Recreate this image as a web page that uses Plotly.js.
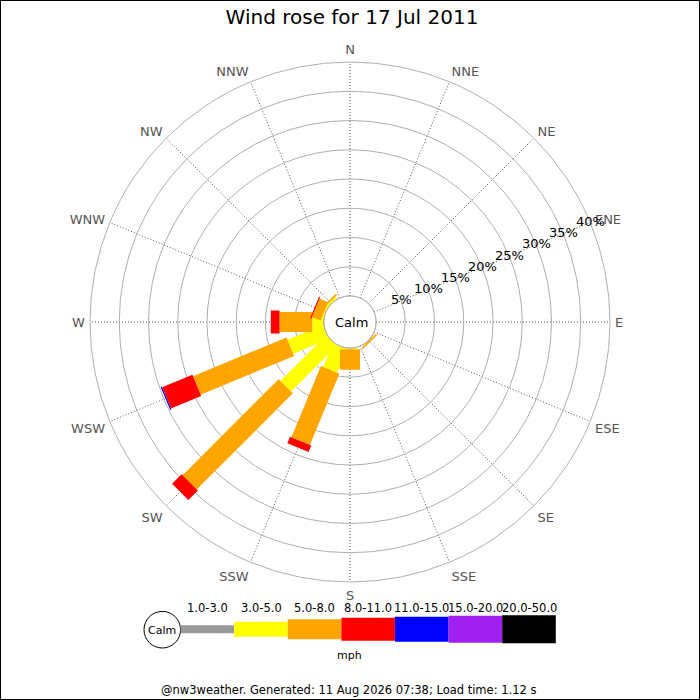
<!DOCTYPE html>
<html>
<head>
<meta charset="utf-8">
<script src="https://cdn.plot.ly/plotly-3.0.1.min.js"></script>
<style>body{margin:0;background:#fff}</style>
</head>
<body>
<div id="myDiv" style="width:700px;height:700px;"></div>
<script>

// compass directions, clockwise from north
var directions = ['N', 'NNE', 'NE', 'ENE', 'E', 'ESE', 'SE', 'SSE',
                  'S', 'SSW', 'SW', 'WSW', 'W', 'WNW', 'NW', 'NNW'];

// speed ranges (mph)
var speedBins = ['1.0-3.0', '3.0-5.0', '5.0-8.0', '8.0-11.0', '11.0-15.0', '15.0-20.0', '20.0-50.0'];

// % of time per direction, one array per speed range
//                N  NNE NE ENE E  ESE SE   SSE S    SSW   SW    WSW   W    WNW  NW   NNW
var speed1to3   = [0, 0, 0, 0, 0, 0, 0,   0, 0,   0,    0,    0,    0,   0,   0,   0];
var speed3to5   = [0, 0, 0, 0, 0, 0, 0.1, 0, 0.2, 4.4,  11.1, 6.6,  2.0, 0.3, 0.4, 0];
var speed5to8   = [0, 0, 0, 0, 0, 0, 0.3, 0, 3.5, 13.2, 23.2, 17.3, 5.6, 1.6, 0.3, 0];
var speed8to11  = [0, 0, 0, 0, 0, 0, 0,   0, 0,   1.2,  2.3,  5.6,  1.5, 0.2, 0,   0];
var speed11to15 = [0, 0, 0, 0, 0, 0, 0,   0, 0,   0,    0,    0.2,  0,   0,   0,   0];
var speed15to20 = [0, 0, 0, 0, 0, 0, 0,   0, 0,   0,    0,    0,    0,   0,   0,   0];
var speed20to50 = [0, 0, 0, 0, 0, 0, 0,   0, 0,   0,    0,    0,    0,   0,   0,   0];

var radialTicks = [5, 10, 15, 20, 25, 30, 35, 40];

var series = [speed1to3, speed3to5, speed5to8, speed8to11, speed11to15, speed15to20, speed20to50];
var colors = ['#999999', '#ffff00', '#ffa500', '#ff0000', '#0000ff', '#a020f0', '#000000'];
var legWidths = [8, 15, 20, 23, 25, 27, 28]; // px

// polar geometry (px) so legs can be drawn as flat rectangles
var CX = 350, CY = 322;
var POLAR_R = 260, HOLE = 0.1, RMAX = 40;
var H = POLAR_R * HOLE;
var K = (POLAR_R - H) / RMAX;
var LABEL_ANGLE = 22.5; // radial labels run along ENE

function toPolar(theta0, v, d) {
  var a = H + v * K;
  var R = Math.sqrt(a * a + d * d);
  return {r: (R - H) / K, t: theta0 + Math.atan2(d, a) * 180 / Math.PI};
}

var data = [];
var cum = directions.map(function () { return 0; });

series.forEach(function (vals, b) {
  var r = [], t = [];
  var hw = legWidths[b] / 2;
  vals.forEach(function (v, i) {
    var c0 = cum[i], c1 = cum[i] + v;
    cum[i] = c1;
    if (v <= 0) return;
    var th = i * 360 / directions.length;
    [[c0, -hw], [c1, -hw], [c1, hw], [c0, hw], [c0, -hw]].forEach(function (p) {
      var q = toPolar(th, p[0], p[1]);
      r.push(q.r); t.push(q.t);
    });
    r.push(null); t.push(null);
  });
  data.push({
    type: 'scatterpolar',
    r: r, theta: t,
    mode: 'lines',
    fill: 'toself',
    fillcolor: colors[b],
    line: {width: 0, color: colors[b]},
    connectgaps: false,
    hoverinfo: 'skip',
    name: speedBins[b],
    showlegend: false
  });
});

// calm circle
var ringT = [];
for (var a = 0; a <= 360; a += 3) ringT.push(a);
data.push({
  type: 'scatterpolar',
  r: ringT.map(function () { return 0; }),
  theta: ringT,
  mode: 'lines',
  line: {color: '#999', width: 1},
  hoverinfo: 'skip',
  showlegend: false
});

function px(x) { return x / 700; }
function py(y) { return 1 - y / 700; }

var shapes = [{
  type: 'rect', xref: 'paper', yref: 'paper',
  x0: 0, y0: 0, x1: 1, y1: 1,
  line: {color: '#000', width: 2}
}, {
  type: 'circle', xref: 'paper', yref: 'paper', layer: 'below',
  x0: px(144), x1: px(180.6), y0: py(648), y1: py(611.4),
  line: {color: '#000', width: 1}, fillcolor: '#fff'
}];
var annotations = [];

// percent labels centred where each ring crosses the ENE spoke
var ang = LABEL_ANGLE * Math.PI / 180;
radialTicks.forEach(function (v) {
  var R = H + v * K;
  annotations.push({
    xref: 'paper', yref: 'paper',
    x: px(CX + R * Math.cos(ang)), y: py(CY - R * Math.sin(ang) - 1),
    text: v + '%', showarrow: false, xanchor: 'center', yanchor: 'middle',
    font: {family: 'DejaVu Sans', size: 13, color: '#000'}
  });
});

// legend drawn below the rose
var legX = 180.6, legStep = 53.6, legMid = 629.3;
var legHeights = [8, 15, 20, 23, 25, 27, 28];
speedBins.forEach(function (lab, b) {
  var x0 = legX + b * legStep;
  shapes.push({
    type: 'rect', xref: 'paper', yref: 'paper',
    x0: px(x0), x1: px(x0 + legStep),
    y0: py(legMid + legHeights[b] / 2), y1: py(legMid - legHeights[b] / 2),
    line: {width: 0}, fillcolor: colors[b]
  });
  annotations.push({
    xref: 'paper', yref: 'paper', x: px(x0 + legStep / 2), y: py(607.5),
    text: lab, showarrow: false, xanchor: 'center', yanchor: 'middle',
    font: {family: 'DejaVu Sans', size: 11.5, color: '#000'}
  });
});

annotations.push(
  {xref: 'paper', yref: 'paper', x: px(162.3), y: py(630), text: 'Calm', showarrow: false,
   xanchor: 'center', yanchor: 'middle',
   font: {family: 'DejaVu Sans', size: 11, color: '#000'}},
  {xref: 'paper', yref: 'paper', x: px(349), y: py(655), text: 'mph', showarrow: false,
   xanchor: 'center', yanchor: 'middle',
   font: {family: 'DejaVu Sans', size: 11, color: '#000'}},
  {xref: 'paper', yref: 'paper', x: px(348), y: py(690),
   text: '@nw3weather. Generated: 11 Aug 2026 07:38; Load time: 1.12 s', showarrow: false,
   xanchor: 'center', yanchor: 'middle',
   font: {family: 'DejaVu Sans', size: 11.5, color: '#000'}},
  {xref: 'paper', yref: 'paper', x: px(CX + 1), y: py(CY), text: 'Calm', showarrow: false,
   xanchor: 'center', yanchor: 'middle',
   font: {family: 'DejaVu Sans', size: 13, color: '#000'}}
);

var layout = {
  width: 700,
  height: 700,
  margin: {l: 0, r: 0, t: 0, b: 0},
  paper_bgcolor: '#fff',
  font: {family: 'DejaVu Sans', color: '#000'},
  title: {
    text: 'Wind rose for 17 Jul 2011',
    x: px(352), xanchor: 'center',
    y: py(17), yanchor: 'middle',
    font: {family: 'DejaVu Sans', size: 20, color: '#000'}
  },
  showlegend: false,
  polar: {
    domain: {x: [px(CX - POLAR_R), px(CX + POLAR_R)], y: [py(CY + POLAR_R), py(CY - POLAR_R)]},
    bgcolor: '#fff',
    hole: HOLE,
    radialaxis: {
      range: [0, RMAX],
      tickmode: 'array',
      tickvals: radialTicks,
      showticklabels: false,
      angle: LABEL_ANGLE,
      showline: false,
      ticks: '',
      gridcolor: '#b0b0b0',
      gridwidth: 1
    },
    angularaxis: {
      direction: 'clockwise',
      rotation: 90,
      tickmode: 'array',
      tickvals: directions.map(function (d, i) { return i * 360 / directions.length; }),
      ticktext: directions,
      ticks: 'outside',
      ticklen: 2,
      tickcolor: 'rgba(0,0,0,0)',
      showline: true,
      linecolor: '#b0b0b0',
      linewidth: 1,
      gridcolor: '#555',
      griddash: '1px,2px',
      gridwidth: 1,
      tickfont: {family: 'DejaVu Sans', size: 13, color: '#555'}
    }
  },
  shapes: shapes,
  annotations: annotations
};

Plotly.newPlot('myDiv', data, layout, {staticPlot: true});
</script>
</body>
</html>
